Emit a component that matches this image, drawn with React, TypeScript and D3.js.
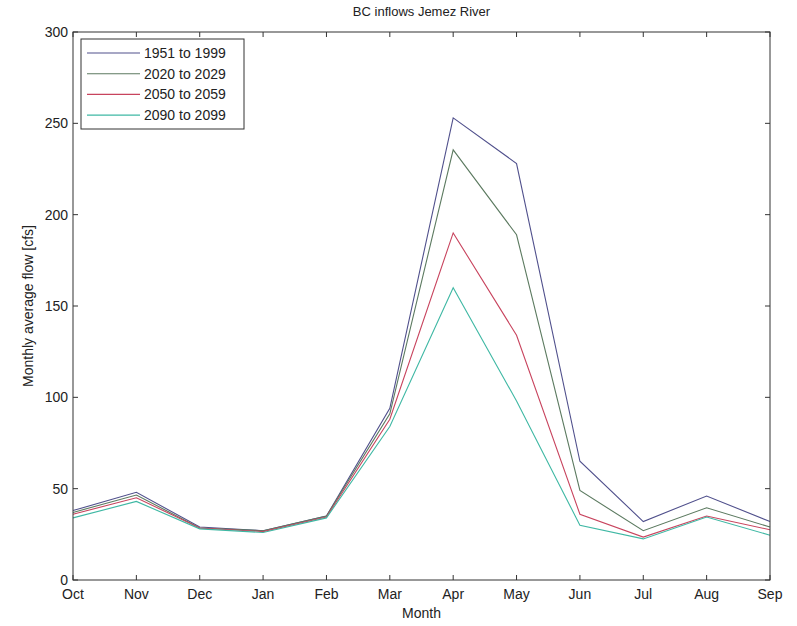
import React from "react";
import * as d3 from "d3";

const months = ["Oct", "Nov", "Dec", "Jan", "Feb", "Mar", "Apr", "May", "Jun", "Jul", "Aug", "Sep"];
const yTicks = [0, 50, 100, 150, 200, 250, 300];
const seriesNames = ["1951 to 1999", "2020 to 2029", "2050 to 2059", "2090 to 2099"];
const s1951 = [38, 48, 29, 27, 35, 94, 253, 228, 65, 32, 46, 32];
const s2020 = [37, 46.5, 28.5, 27, 35, 91, 235.5, 189, 49, 27, 39.5, 29];
const s2050 = [36, 45, 28.5, 26.5, 34.5, 88, 190, 134, 36, 23.5, 35, 27.5];
const s2090 = [34, 43, 28, 26, 34, 84, 160, 98, 30, 22.5, 34.5, 24.5];
const seriesValues = [s1951, s2020, s2050, s2090];
const colors = ["#50508c", "#5c7a60", "#c8445e", "#3fb8a4"];

export default function App() {
  const W = 797, H = 626;
  const left = 73, right = 770, top = 32, bottom = 580;
  const x = d3.scalePoint<string>().domain(months).range([left, right]);
  const y = d3.scaleLinear().domain([0, 300]).range([bottom, top]);
  const line = d3.line<number>().x((_, i) => x(months[i]) as number).y((d) => y(d));
  const font = "'Liberation Sans', Arial, sans-serif";
  const tl = 5;
  return (
    <svg width={W} height={H} style={{ position: "absolute", left: 0, top: 0, background: "#fff" }} fontFamily={font}>
      <rect x={0} y={0} width={W} height={H} fill="#fff" />
      <text x={(left + right) / 2} y={16} textAnchor="middle" fontSize={13} fill="#222">BC inflows Jemez River</text>
      {seriesValues.map((vals, k) => (
        <path key={k} d={line(vals) || ""} fill="none" stroke={colors[k]} strokeWidth={1.1} />
      ))}
      <rect x={left} y={top} width={right - left} height={bottom - top} fill="none" stroke="#333" strokeWidth={1} />
      {months.map((m) => {
        const px = x(m) as number;
        return (
          <g key={m}>
            <line x1={px} x2={px} y1={bottom} y2={bottom - tl} stroke="#333" />
            <line x1={px} x2={px} y1={top} y2={top + tl} stroke="#333" />
            <text x={px} y={599} textAnchor="middle" fontSize={14} fill="#222">{m}</text>
          </g>
        );
      })}
      {yTicks.map((t) => {
        const py = y(t);
        return (
          <g key={t}>
            <line x1={left} x2={left + tl} y1={py} y2={py} stroke="#333" />
            <line x1={right} x2={right - tl} y1={py} y2={py} stroke="#333" />
            <text x={68} y={py + 5} textAnchor="end" fontSize={14} fill="#222">{t}</text>
          </g>
        );
      })}
      <text x={(left + right) / 2} y={618} textAnchor="middle" fontSize={14} fill="#222">Month</text>
      <text transform={`translate(33,${(top + bottom) / 2}) rotate(-90)`} textAnchor="middle" fontSize={14} fill="#222">Monthly average flow [cfs]</text>
      <rect x={81} y={39} width={163} height={90} fill="#fff" stroke="#333" />
      {seriesNames.map((n, k) => {
        const ly = 53 + k * 20.7;
        return (
          <g key={n}>
            <line x1={87} x2={140} y1={ly} y2={ly} stroke={colors[k]} strokeWidth={1.1} />
            <text x={144} y={ly + 5} fontSize={14} fill="#222">{n}</text>
          </g>
        );
      })}
    </svg>
  );
}
